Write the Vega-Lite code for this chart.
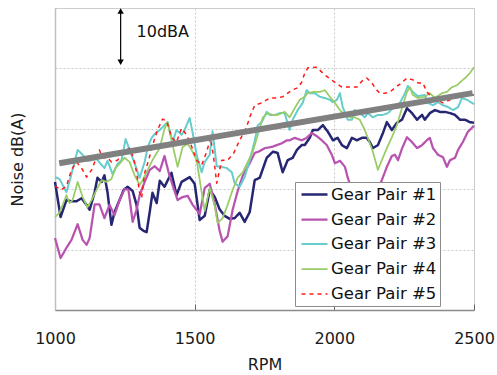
{
"$schema":"https://vega.github.io/schema/vega-lite/v6.json",
"width":419,"height":302,
"autosize":{"type":"none"},
"padding":{"left":55,"top":8,"right":23,"bottom":65},
"background":"white",
"config":{"font":"DejaVu Sans","view":{"stroke":"#cfcfcf","strokeWidth":1}},
"datasets":{
"gear":[
{"series":"Gear Pair #1","rpm":1000,"dB":61.2},{"series":"Gear Pair #1","rpm":1020,"dB":55.4},{"series":"Gear Pair #1","rpm":1041,"dB":58.2},{"series":"Gear Pair #1","rpm":1059,"dB":58.0},{"series":"Gear Pair #1","rpm":1077,"dB":58.0},{"series":"Gear Pair #1","rpm":1095,"dB":58.5},{"series":"Gear Pair #1","rpm":1113,"dB":57.4},{"series":"Gear Pair #1","rpm":1124,"dB":56.6},{"series":"Gear Pair #1","rpm":1142,"dB":59.5},{"series":"Gear Pair #1","rpm":1152,"dB":61.9},{"series":"Gear Pair #1","rpm":1167,"dB":61.2},{"series":"Gear Pair #1","rpm":1177,"dB":62.3},{"series":"Gear Pair #1","rpm":1188,"dB":59.5},{"series":"Gear Pair #1","rpm":1202,"dB":54.1},{"series":"Gear Pair #1","rpm":1213,"dB":56.2},{"series":"Gear Pair #1","rpm":1231,"dB":58.2},{"series":"Gear Pair #1","rpm":1246,"dB":59.9},{"series":"Gear Pair #1","rpm":1260,"dB":60.4},{"series":"Gear Pair #1","rpm":1278,"dB":59.7},{"series":"Gear Pair #1","rpm":1292,"dB":57.4},{"series":"Gear Pair #1","rpm":1303,"dB":53.6},{"series":"Gear Pair #1","rpm":1317,"dB":53.1},{"series":"Gear Pair #1","rpm":1328,"dB":52.9},{"series":"Gear Pair #1","rpm":1339,"dB":56.2},{"series":"Gear Pair #1","rpm":1349,"dB":59.4},{"series":"Gear Pair #1","rpm":1364,"dB":57.7},{"series":"Gear Pair #1","rpm":1375,"dB":61.4},{"series":"Gear Pair #1","rpm":1392,"dB":60.4},{"series":"Gear Pair #1","rpm":1417,"dB":62.7},{"series":"Gear Pair #1","rpm":1435,"dB":59.0},{"series":"Gear Pair #1","rpm":1453,"dB":61.2},{"series":"Gear Pair #1","rpm":1471,"dB":61.7},{"series":"Gear Pair #1","rpm":1482,"dB":62.0},{"series":"Gear Pair #1","rpm":1500,"dB":60.9},{"series":"Gear Pair #1","rpm":1518,"dB":54.9},{"series":"Gear Pair #1","rpm":1536,"dB":55.6},{"series":"Gear Pair #1","rpm":1554,"dB":59.9},{"series":"Gear Pair #1","rpm":1572,"dB":58.7},{"series":"Gear Pair #1","rpm":1589,"dB":56.7},{"series":"Gear Pair #1","rpm":1607,"dB":55.6},{"series":"Gear Pair #1","rpm":1625,"dB":55.1},{"series":"Gear Pair #1","rpm":1643,"dB":55.2},{"series":"Gear Pair #1","rpm":1661,"dB":56.1},{"series":"Gear Pair #1","rpm":1679,"dB":54.6},{"series":"Gear Pair #1","rpm":1697,"dB":56.2},{"series":"Gear Pair #1","rpm":1715,"dB":61.5},{"series":"Gear Pair #1","rpm":1733,"dB":61.9},{"series":"Gear Pair #1","rpm":1758,"dB":65.2},{"series":"Gear Pair #1","rpm":1780,"dB":66.2},{"series":"Gear Pair #1","rpm":1797,"dB":66.0},{"series":"Gear Pair #1","rpm":1815,"dB":62.8},{"series":"Gear Pair #1","rpm":1833,"dB":64.8},{"series":"Gear Pair #1","rpm":1851,"dB":65.2},{"series":"Gear Pair #1","rpm":1866,"dB":66.5},{"series":"Gear Pair #1","rpm":1883,"dB":67.3},{"series":"Gear Pair #1","rpm":1894,"dB":67.3},{"series":"Gear Pair #1","rpm":1912,"dB":68.5},{"series":"Gear Pair #1","rpm":1923,"dB":69.8},{"series":"Gear Pair #1","rpm":1941,"dB":69.8},{"series":"Gear Pair #1","rpm":1959,"dB":70.6},{"series":"Gear Pair #1","rpm":1977,"dB":69.5},{"series":"Gear Pair #1","rpm":1995,"dB":68.1},{"series":"Gear Pair #1","rpm":2012,"dB":68.5},{"series":"Gear Pair #1","rpm":2027,"dB":67.3},{"series":"Gear Pair #1","rpm":2045,"dB":66.8},{"series":"Gear Pair #1","rpm":2063,"dB":68.5},{"series":"Gear Pair #1","rpm":2081,"dB":68.1},{"series":"Gear Pair #1","rpm":2099,"dB":68.5},{"series":"Gear Pair #1","rpm":2116,"dB":68.5},{"series":"Gear Pair #1","rpm":2127,"dB":67.8},{"series":"Gear Pair #1","rpm":2138,"dB":66.8},{"series":"Gear Pair #1","rpm":2156,"dB":67.3},{"series":"Gear Pair #1","rpm":2174,"dB":69.3},{"series":"Gear Pair #1","rpm":2188,"dB":71.1},{"series":"Gear Pair #1","rpm":2206,"dB":69.8},{"series":"Gear Pair #1","rpm":2224,"dB":71.0},{"series":"Gear Pair #1","rpm":2242,"dB":71.5},{"series":"Gear Pair #1","rpm":2260,"dB":73.4},{"series":"Gear Pair #1","rpm":2278,"dB":72.6},{"series":"Gear Pair #1","rpm":2296,"dB":71.5},{"series":"Gear Pair #1","rpm":2314,"dB":72.3},{"series":"Gear Pair #1","rpm":2324,"dB":71.5},{"series":"Gear Pair #1","rpm":2342,"dB":72.6},{"series":"Gear Pair #1","rpm":2360,"dB":73.1},{"series":"Gear Pair #1","rpm":2378,"dB":72.8},{"series":"Gear Pair #1","rpm":2396,"dB":72.8},{"series":"Gear Pair #1","rpm":2414,"dB":72.6},{"series":"Gear Pair #1","rpm":2432,"dB":72.3},{"series":"Gear Pair #1","rpm":2450,"dB":71.5},{"series":"Gear Pair #1","rpm":2468,"dB":71.5},{"series":"Gear Pair #1","rpm":2485,"dB":71.1},{"series":"Gear Pair #1","rpm":2500,"dB":71.0},
{"series":"Gear Pair #2","rpm":1000,"dB":51.9},{"series":"Gear Pair #2","rpm":1020,"dB":48.6},{"series":"Gear Pair #2","rpm":1041,"dB":50.3},{"series":"Gear Pair #2","rpm":1059,"dB":51.6},{"series":"Gear Pair #2","rpm":1081,"dB":54.2},{"series":"Gear Pair #2","rpm":1099,"dB":51.6},{"series":"Gear Pair #2","rpm":1113,"dB":50.8},{"series":"Gear Pair #2","rpm":1124,"dB":51.9},{"series":"Gear Pair #2","rpm":1142,"dB":57.5},{"series":"Gear Pair #2","rpm":1159,"dB":57.5},{"series":"Gear Pair #2","rpm":1177,"dB":55.2},{"series":"Gear Pair #2","rpm":1195,"dB":57.4},{"series":"Gear Pair #2","rpm":1213,"dB":55.7},{"series":"Gear Pair #2","rpm":1231,"dB":58.2},{"series":"Gear Pair #2","rpm":1249,"dB":60.0},{"series":"Gear Pair #2","rpm":1263,"dB":59.9},{"series":"Gear Pair #2","rpm":1278,"dB":54.6},{"series":"Gear Pair #2","rpm":1292,"dB":56.6},{"series":"Gear Pair #2","rpm":1303,"dB":59.0},{"series":"Gear Pair #2","rpm":1321,"dB":61.2},{"series":"Gear Pair #2","rpm":1339,"dB":63.2},{"series":"Gear Pair #2","rpm":1357,"dB":63.8},{"series":"Gear Pair #2","rpm":1375,"dB":63.0},{"series":"Gear Pair #2","rpm":1392,"dB":65.5},{"series":"Gear Pair #2","rpm":1410,"dB":62.2},{"series":"Gear Pair #2","rpm":1439,"dB":58.2},{"series":"Gear Pair #2","rpm":1457,"dB":58.7},{"series":"Gear Pair #2","rpm":1475,"dB":58.9},{"series":"Gear Pair #2","rpm":1493,"dB":57.4},{"series":"Gear Pair #2","rpm":1518,"dB":55.9},{"series":"Gear Pair #2","rpm":1536,"dB":60.2},{"series":"Gear Pair #2","rpm":1554,"dB":60.9},{"series":"Gear Pair #2","rpm":1572,"dB":57.5},{"series":"Gear Pair #2","rpm":1589,"dB":53.2},{"series":"Gear Pair #2","rpm":1600,"dB":51.3},{"series":"Gear Pair #2","rpm":1618,"dB":52.2},{"series":"Gear Pair #2","rpm":1636,"dB":56.6},{"series":"Gear Pair #2","rpm":1654,"dB":59.7},{"series":"Gear Pair #2","rpm":1672,"dB":62.2},{"series":"Gear Pair #2","rpm":1697,"dB":64.3},{"series":"Gear Pair #2","rpm":1715,"dB":66.0},{"series":"Gear Pair #2","rpm":1733,"dB":66.3},{"series":"Gear Pair #2","rpm":1751,"dB":66.8},{"series":"Gear Pair #2","rpm":1776,"dB":67.0},{"series":"Gear Pair #2","rpm":1794,"dB":67.3},{"series":"Gear Pair #2","rpm":1812,"dB":67.6},{"series":"Gear Pair #2","rpm":1830,"dB":68.1},{"series":"Gear Pair #2","rpm":1840,"dB":68.1},{"series":"Gear Pair #2","rpm":1858,"dB":68.5},{"series":"Gear Pair #2","rpm":1883,"dB":68.1},{"series":"Gear Pair #2","rpm":1901,"dB":68.5},{"series":"Gear Pair #2","rpm":1919,"dB":69.3},{"series":"Gear Pair #2","rpm":1937,"dB":68.8},{"series":"Gear Pair #2","rpm":1955,"dB":68.1},{"series":"Gear Pair #2","rpm":1973,"dB":67.3},{"series":"Gear Pair #2","rpm":1991,"dB":65.7},{"series":"Gear Pair #2","rpm":2002,"dB":64.3},{"series":"Gear Pair #2","rpm":2020,"dB":64.7},{"series":"Gear Pair #2","rpm":2038,"dB":63.7},{"series":"Gear Pair #2","rpm":2048,"dB":61.9},{"series":"Gear Pair #2","rpm":2063,"dB":59.9},{"series":"Gear Pair #2","rpm":2081,"dB":57.4},{"series":"Gear Pair #2","rpm":2102,"dB":55.7},{"series":"Gear Pair #2","rpm":2127,"dB":56.2},{"series":"Gear Pair #2","rpm":2149,"dB":59.0},{"series":"Gear Pair #2","rpm":2170,"dB":61.5},{"series":"Gear Pair #2","rpm":2188,"dB":63.7},{"series":"Gear Pair #2","rpm":2206,"dB":65.5},{"series":"Gear Pair #2","rpm":2217,"dB":65.7},{"series":"Gear Pair #2","rpm":2228,"dB":64.8},{"series":"Gear Pair #2","rpm":2242,"dB":66.7},{"series":"Gear Pair #2","rpm":2260,"dB":68.6},{"series":"Gear Pair #2","rpm":2278,"dB":67.8},{"series":"Gear Pair #2","rpm":2296,"dB":66.8},{"series":"Gear Pair #2","rpm":2314,"dB":67.3},{"series":"Gear Pair #2","rpm":2331,"dB":68.1},{"series":"Gear Pair #2","rpm":2342,"dB":68.5},{"series":"Gear Pair #2","rpm":2353,"dB":66.8},{"series":"Gear Pair #2","rpm":2371,"dB":65.7},{"series":"Gear Pair #2","rpm":2389,"dB":65.3},{"series":"Gear Pair #2","rpm":2403,"dB":63.7},{"series":"Gear Pair #2","rpm":2414,"dB":64.8},{"series":"Gear Pair #2","rpm":2432,"dB":65.2},{"series":"Gear Pair #2","rpm":2443,"dB":66.5},{"series":"Gear Pair #2","rpm":2460,"dB":67.8},{"series":"Gear Pair #2","rpm":2478,"dB":69.5},{"series":"Gear Pair #2","rpm":2500,"dB":70.5},
{"series":"Gear Pair #3","rpm":1000,"dB":62.0},{"series":"Gear Pair #3","rpm":1016,"dB":61.7},{"series":"Gear Pair #3","rpm":1041,"dB":59.5},{"series":"Gear Pair #3","rpm":1059,"dB":62.5},{"series":"Gear Pair #3","rpm":1081,"dB":66.5},{"series":"Gear Pair #3","rpm":1099,"dB":65.7},{"series":"Gear Pair #3","rpm":1116,"dB":64.7},{"series":"Gear Pair #3","rpm":1131,"dB":64.8},{"series":"Gear Pair #3","rpm":1149,"dB":65.0},{"series":"Gear Pair #3","rpm":1167,"dB":64.0},{"series":"Gear Pair #3","rpm":1177,"dB":63.5},{"series":"Gear Pair #3","rpm":1188,"dB":64.7},{"series":"Gear Pair #3","rpm":1206,"dB":62.5},{"series":"Gear Pair #3","rpm":1224,"dB":64.2},{"series":"Gear Pair #3","rpm":1238,"dB":64.8},{"series":"Gear Pair #3","rpm":1253,"dB":68.3},{"series":"Gear Pair #3","rpm":1267,"dB":66.5},{"series":"Gear Pair #3","rpm":1285,"dB":64.3},{"series":"Gear Pair #3","rpm":1303,"dB":61.9},{"series":"Gear Pair #3","rpm":1321,"dB":64.5},{"series":"Gear Pair #3","rpm":1332,"dB":67.0},{"series":"Gear Pair #3","rpm":1346,"dB":68.5},{"series":"Gear Pair #3","rpm":1360,"dB":69.3},{"series":"Gear Pair #3","rpm":1375,"dB":69.8},{"series":"Gear Pair #3","rpm":1392,"dB":70.6},{"series":"Gear Pair #3","rpm":1403,"dB":71.1},{"series":"Gear Pair #3","rpm":1421,"dB":67.8},{"series":"Gear Pair #3","rpm":1435,"dB":69.8},{"series":"Gear Pair #3","rpm":1453,"dB":69.0},{"series":"Gear Pair #3","rpm":1464,"dB":69.8},{"series":"Gear Pair #3","rpm":1482,"dB":71.8},{"series":"Gear Pair #3","rpm":1493,"dB":69.3},{"series":"Gear Pair #3","rpm":1507,"dB":65.7},{"series":"Gear Pair #3","rpm":1525,"dB":62.8},{"series":"Gear Pair #3","rpm":1536,"dB":64.5},{"series":"Gear Pair #3","rpm":1554,"dB":65.7},{"series":"Gear Pair #3","rpm":1564,"dB":69.6},{"series":"Gear Pair #3","rpm":1579,"dB":63.8},{"series":"Gear Pair #3","rpm":1597,"dB":63.7},{"series":"Gear Pair #3","rpm":1615,"dB":63.5},{"series":"Gear Pair #3","rpm":1633,"dB":62.8},{"series":"Gear Pair #3","rpm":1643,"dB":61.0},{"series":"Gear Pair #3","rpm":1661,"dB":60.4},{"series":"Gear Pair #3","rpm":1679,"dB":62.0},{"series":"Gear Pair #3","rpm":1697,"dB":64.8},{"series":"Gear Pair #3","rpm":1715,"dB":68.0},{"series":"Gear Pair #3","rpm":1726,"dB":70.6},{"series":"Gear Pair #3","rpm":1740,"dB":71.1},{"series":"Gear Pair #3","rpm":1758,"dB":72.8},{"series":"Gear Pair #3","rpm":1769,"dB":72.3},{"series":"Gear Pair #3","rpm":1787,"dB":72.3},{"series":"Gear Pair #3","rpm":1805,"dB":72.6},{"series":"Gear Pair #3","rpm":1822,"dB":72.6},{"series":"Gear Pair #3","rpm":1840,"dB":69.8},{"series":"Gear Pair #3","rpm":1851,"dB":71.5},{"series":"Gear Pair #3","rpm":1869,"dB":73.1},{"series":"Gear Pair #3","rpm":1887,"dB":74.3},{"series":"Gear Pair #3","rpm":1901,"dB":76.4},{"series":"Gear Pair #3","rpm":1912,"dB":75.9},{"series":"Gear Pair #3","rpm":1930,"dB":75.9},{"series":"Gear Pair #3","rpm":1948,"dB":75.3},{"series":"Gear Pair #3","rpm":1966,"dB":75.1},{"series":"Gear Pair #3","rpm":1984,"dB":74.8},{"series":"Gear Pair #3","rpm":1995,"dB":74.4},{"series":"Gear Pair #3","rpm":2009,"dB":74.8},{"series":"Gear Pair #3","rpm":2020,"dB":75.9},{"series":"Gear Pair #3","rpm":2030,"dB":73.6},{"series":"Gear Pair #3","rpm":2048,"dB":71.5},{"series":"Gear Pair #3","rpm":2063,"dB":71.5},{"series":"Gear Pair #3","rpm":2073,"dB":73.1},{"series":"Gear Pair #3","rpm":2091,"dB":72.6},{"series":"Gear Pair #3","rpm":2109,"dB":71.9},{"series":"Gear Pair #3","rpm":2120,"dB":72.6},{"series":"Gear Pair #3","rpm":2138,"dB":71.9},{"series":"Gear Pair #3","rpm":2156,"dB":72.3},{"series":"Gear Pair #3","rpm":2174,"dB":72.3},{"series":"Gear Pair #3","rpm":2192,"dB":72.6},{"series":"Gear Pair #3","rpm":2210,"dB":73.4},{"series":"Gear Pair #3","rpm":2235,"dB":74.3},{"series":"Gear Pair #3","rpm":2253,"dB":75.9},{"series":"Gear Pair #3","rpm":2263,"dB":77.1},{"series":"Gear Pair #3","rpm":2281,"dB":76.1},{"series":"Gear Pair #3","rpm":2299,"dB":75.4},{"series":"Gear Pair #3","rpm":2324,"dB":75.6},{"series":"Gear Pair #3","rpm":2335,"dB":74.3},{"series":"Gear Pair #3","rpm":2353,"dB":73.9},{"series":"Gear Pair #3","rpm":2371,"dB":74.4},{"series":"Gear Pair #3","rpm":2389,"dB":73.9},{"series":"Gear Pair #3","rpm":2407,"dB":73.6},{"series":"Gear Pair #3","rpm":2425,"dB":73.1},{"series":"Gear Pair #3","rpm":2443,"dB":73.6},{"series":"Gear Pair #3","rpm":2457,"dB":75.1},{"series":"Gear Pair #3","rpm":2475,"dB":74.8},{"series":"Gear Pair #3","rpm":2500,"dB":74.1},
{"series":"Gear Pair #4","rpm":1000,"dB":55.4},{"series":"Gear Pair #4","rpm":1016,"dB":56.1},{"series":"Gear Pair #4","rpm":1041,"dB":59.0},{"series":"Gear Pair #4","rpm":1052,"dB":57.7},{"series":"Gear Pair #4","rpm":1063,"dB":58.2},{"series":"Gear Pair #4","rpm":1081,"dB":61.2},{"series":"Gear Pair #4","rpm":1099,"dB":58.7},{"series":"Gear Pair #4","rpm":1116,"dB":57.0},{"series":"Gear Pair #4","rpm":1131,"dB":58.2},{"series":"Gear Pair #4","rpm":1149,"dB":59.9},{"series":"Gear Pair #4","rpm":1167,"dB":61.5},{"series":"Gear Pair #4","rpm":1185,"dB":61.2},{"series":"Gear Pair #4","rpm":1202,"dB":61.7},{"series":"Gear Pair #4","rpm":1217,"dB":63.5},{"series":"Gear Pair #4","rpm":1231,"dB":64.2},{"series":"Gear Pair #4","rpm":1249,"dB":65.2},{"series":"Gear Pair #4","rpm":1267,"dB":64.5},{"series":"Gear Pair #4","rpm":1285,"dB":62.3},{"series":"Gear Pair #4","rpm":1303,"dB":60.7},{"series":"Gear Pair #4","rpm":1314,"dB":61.5},{"series":"Gear Pair #4","rpm":1332,"dB":63.2},{"series":"Gear Pair #4","rpm":1349,"dB":64.8},{"series":"Gear Pair #4","rpm":1364,"dB":66.0},{"series":"Gear Pair #4","rpm":1375,"dB":66.8},{"series":"Gear Pair #4","rpm":1392,"dB":70.0},{"series":"Gear Pair #4","rpm":1403,"dB":71.1},{"series":"Gear Pair #4","rpm":1421,"dB":67.3},{"series":"Gear Pair #4","rpm":1439,"dB":63.7},{"series":"Gear Pair #4","rpm":1457,"dB":67.0},{"series":"Gear Pair #4","rpm":1475,"dB":67.5},{"series":"Gear Pair #4","rpm":1489,"dB":66.5},{"series":"Gear Pair #4","rpm":1507,"dB":64.8},{"series":"Gear Pair #4","rpm":1525,"dB":59.5},{"series":"Gear Pair #4","rpm":1536,"dB":56.4},{"series":"Gear Pair #4","rpm":1554,"dB":60.2},{"series":"Gear Pair #4","rpm":1572,"dB":57.2},{"series":"Gear Pair #4","rpm":1582,"dB":54.4},{"series":"Gear Pair #4","rpm":1600,"dB":55.2},{"series":"Gear Pair #4","rpm":1618,"dB":57.4},{"series":"Gear Pair #4","rpm":1636,"dB":59.9},{"series":"Gear Pair #4","rpm":1654,"dB":61.9},{"series":"Gear Pair #4","rpm":1672,"dB":62.8},{"series":"Gear Pair #4","rpm":1690,"dB":64.5},{"series":"Gear Pair #4","rpm":1708,"dB":66.2},{"series":"Gear Pair #4","rpm":1726,"dB":69.0},{"series":"Gear Pair #4","rpm":1744,"dB":71.9},{"series":"Gear Pair #4","rpm":1762,"dB":72.6},{"series":"Gear Pair #4","rpm":1780,"dB":72.3},{"series":"Gear Pair #4","rpm":1797,"dB":72.3},{"series":"Gear Pair #4","rpm":1822,"dB":72.8},{"series":"Gear Pair #4","rpm":1840,"dB":71.9},{"series":"Gear Pair #4","rpm":1858,"dB":73.4},{"series":"Gear Pair #4","rpm":1876,"dB":74.8},{"series":"Gear Pair #4","rpm":1894,"dB":75.3},{"series":"Gear Pair #4","rpm":1905,"dB":75.9},{"series":"Gear Pair #4","rpm":1923,"dB":76.1},{"series":"Gear Pair #4","rpm":1948,"dB":76.1},{"series":"Gear Pair #4","rpm":1966,"dB":76.4},{"series":"Gear Pair #4","rpm":1984,"dB":75.3},{"series":"Gear Pair #4","rpm":2002,"dB":74.3},{"series":"Gear Pair #4","rpm":2020,"dB":73.1},{"series":"Gear Pair #4","rpm":2038,"dB":72.3},{"series":"Gear Pair #4","rpm":2056,"dB":71.9},{"series":"Gear Pair #4","rpm":2073,"dB":71.9},{"series":"Gear Pair #4","rpm":2091,"dB":71.5},{"series":"Gear Pair #4","rpm":2109,"dB":69.8},{"series":"Gear Pair #4","rpm":2120,"dB":68.5},{"series":"Gear Pair #4","rpm":2138,"dB":66.2},{"series":"Gear Pair #4","rpm":2156,"dB":63.2},{"series":"Gear Pair #4","rpm":2170,"dB":64.8},{"series":"Gear Pair #4","rpm":2188,"dB":66.8},{"series":"Gear Pair #4","rpm":2206,"dB":68.6},{"series":"Gear Pair #4","rpm":2224,"dB":70.6},{"series":"Gear Pair #4","rpm":2242,"dB":73.4},{"series":"Gear Pair #4","rpm":2260,"dB":76.1},{"series":"Gear Pair #4","rpm":2271,"dB":76.9},{"series":"Gear Pair #4","rpm":2281,"dB":75.6},{"series":"Gear Pair #4","rpm":2299,"dB":75.1},{"series":"Gear Pair #4","rpm":2324,"dB":75.3},{"series":"Gear Pair #4","rpm":2342,"dB":75.9},{"series":"Gear Pair #4","rpm":2360,"dB":75.1},{"series":"Gear Pair #4","rpm":2385,"dB":75.9},{"series":"Gear Pair #4","rpm":2403,"dB":76.1},{"series":"Gear Pair #4","rpm":2421,"dB":76.9},{"series":"Gear Pair #4","rpm":2439,"dB":77.2},{"series":"Gear Pair #4","rpm":2450,"dB":77.7},{"series":"Gear Pair #4","rpm":2468,"dB":78.4},{"series":"Gear Pair #4","rpm":2485,"dB":79.2},{"series":"Gear Pair #4","rpm":2500,"dB":80.2},
{"series":"Gear Pair #5","rpm":1000,"dB":60.5},{"series":"Gear Pair #5","rpm":1023,"dB":59.9},{"series":"Gear Pair #5","rpm":1041,"dB":60.5},{"series":"Gear Pair #5","rpm":1059,"dB":63.2},{"series":"Gear Pair #5","rpm":1077,"dB":64.5},{"series":"Gear Pair #5","rpm":1095,"dB":63.5},{"series":"Gear Pair #5","rpm":1113,"dB":62.0},{"series":"Gear Pair #5","rpm":1131,"dB":63.2},{"series":"Gear Pair #5","rpm":1149,"dB":65.3},{"series":"Gear Pair #5","rpm":1159,"dB":66.5},{"series":"Gear Pair #5","rpm":1170,"dB":65.2},{"series":"Gear Pair #5","rpm":1188,"dB":65.2},{"series":"Gear Pair #5","rpm":1202,"dB":64.5},{"series":"Gear Pair #5","rpm":1224,"dB":64.8},{"series":"Gear Pair #5","rpm":1246,"dB":66.2},{"series":"Gear Pair #5","rpm":1267,"dB":66.8},{"series":"Gear Pair #5","rpm":1281,"dB":65.2},{"series":"Gear Pair #5","rpm":1292,"dB":62.8},{"series":"Gear Pair #5","rpm":1303,"dB":59.4},{"series":"Gear Pair #5","rpm":1310,"dB":58.5},{"series":"Gear Pair #5","rpm":1321,"dB":62.7},{"series":"Gear Pair #5","rpm":1335,"dB":64.8},{"series":"Gear Pair #5","rpm":1353,"dB":67.8},{"series":"Gear Pair #5","rpm":1367,"dB":69.8},{"series":"Gear Pair #5","rpm":1385,"dB":71.6},{"series":"Gear Pair #5","rpm":1400,"dB":71.3},{"series":"Gear Pair #5","rpm":1417,"dB":68.6},{"series":"Gear Pair #5","rpm":1435,"dB":67.8},{"series":"Gear Pair #5","rpm":1453,"dB":70.1},{"series":"Gear Pair #5","rpm":1471,"dB":69.0},{"series":"Gear Pair #5","rpm":1489,"dB":67.1},{"series":"Gear Pair #5","rpm":1507,"dB":64.8},{"series":"Gear Pair #5","rpm":1525,"dB":64.0},{"series":"Gear Pair #5","rpm":1543,"dB":66.2},{"series":"Gear Pair #5","rpm":1557,"dB":68.5},{"series":"Gear Pair #5","rpm":1568,"dB":65.2},{"series":"Gear Pair #5","rpm":1579,"dB":61.0},{"series":"Gear Pair #5","rpm":1597,"dB":64.8},{"series":"Gear Pair #5","rpm":1618,"dB":64.8},{"series":"Gear Pair #5","rpm":1640,"dB":66.0},{"series":"Gear Pair #5","rpm":1661,"dB":68.1},{"series":"Gear Pair #5","rpm":1686,"dB":70.3},{"series":"Gear Pair #5","rpm":1697,"dB":71.9},{"series":"Gear Pair #5","rpm":1715,"dB":73.9},{"series":"Gear Pair #5","rpm":1740,"dB":74.3},{"series":"Gear Pair #5","rpm":1769,"dB":75.1},{"series":"Gear Pair #5","rpm":1794,"dB":75.1},{"series":"Gear Pair #5","rpm":1815,"dB":75.3},{"series":"Gear Pair #5","rpm":1848,"dB":76.4},{"series":"Gear Pair #5","rpm":1869,"dB":76.8},{"series":"Gear Pair #5","rpm":1883,"dB":77.7},{"series":"Gear Pair #5","rpm":1894,"dB":79.2},{"series":"Gear Pair #5","rpm":1905,"dB":80.1},{"series":"Gear Pair #5","rpm":1937,"dB":80.2},{"series":"Gear Pair #5","rpm":1966,"dB":78.9},{"series":"Gear Pair #5","rpm":2002,"dB":77.7},{"series":"Gear Pair #5","rpm":2027,"dB":76.9},{"series":"Gear Pair #5","rpm":2056,"dB":76.9},{"series":"Gear Pair #5","rpm":2081,"dB":76.9},{"series":"Gear Pair #5","rpm":2099,"dB":77.9},{"series":"Gear Pair #5","rpm":2116,"dB":78.4},{"series":"Gear Pair #5","rpm":2134,"dB":77.6},{"series":"Gear Pair #5","rpm":2152,"dB":76.4},{"series":"Gear Pair #5","rpm":2163,"dB":75.9},{"series":"Gear Pair #5","rpm":2181,"dB":75.9},{"series":"Gear Pair #5","rpm":2199,"dB":76.1},{"series":"Gear Pair #5","rpm":2217,"dB":76.8},{"series":"Gear Pair #5","rpm":2235,"dB":77.4},{"series":"Gear Pair #5","rpm":2260,"dB":78.4},{"series":"Gear Pair #5","rpm":2281,"dB":78.1},{"series":"Gear Pair #5","rpm":2299,"dB":77.6},{"series":"Gear Pair #5","rpm":2317,"dB":77.6},{"series":"Gear Pair #5","rpm":2331,"dB":76.1},{"series":"Gear Pair #5","rpm":2349,"dB":75.3},{"series":"Gear Pair #5","rpm":2367,"dB":74.8},{"series":"Gear Pair #5","rpm":2389,"dB":74.3},{"series":"Gear Pair #5","rpm":2414,"dB":74.8},{"series":"Gear Pair #5","rpm":2432,"dB":75.1},{"series":"Gear Pair #5","rpm":2450,"dB":75.4},{"series":"Gear Pair #5","rpm":2468,"dB":75.4},{"series":"Gear Pair #5","rpm":2485,"dB":75.6},{"series":"Gear Pair #5","rpm":2500,"dB":75.6}
],
"trend":[{"rpm":1015,"dB":64.3},{"rpm":2495,"dB":75.9}],
"arrow":[{"rpm":1235,"dB":89.5,"dB2":81.0}],
"heads":[{"rpm":1235,"dB":89.5,"head":"up"},{"rpm":1235,"dB":81.0,"head":"down"}],
"note":[{"rpm":1292,"dB":86.0,"label":"10dBA"}]
},
"encoding":{
"x":{"field":"rpm","type":"quantitative","scale":{"domain":[1000,2500],"nice":false,"zero":false},
 "axis":{"title":"RPM","values":[1000,1500,2000,2500],"format":"d","labelFlush":false,"labelFont":"DejaVu Sans","labelFontSize":16,"labelColor":"#1a1a1a","tickSize":-6,"tickColor":"#666666","labelPadding":26,"domainColor":"#8c8c8c","domainWidth":1.5,"grid":true,"gridColor":"#c8c8c8","gridDash":[2,2],"titleFont":"DejaVu Sans","titleFontSize":16,"titleFontWeight":"normal","titleColor":"#1a1a1a","titlePadding":10}},
"y":{"field":"dB","type":"quantitative","scale":{"domain":[40,90],"nice":false,"zero":false},
 "axis":{"title":"Noise dB(A)","values":[40,50,60,70,80,90],"labels":false,"ticks":false,"domainColor":"#c0c0c0","domainWidth":1.5,"grid":true,"gridColor":"#c8c8c8","gridDash":[2,2],"titleFont":"DejaVu Sans","titleFontSize":16,"titleFontWeight":"normal","titleColor":"#1a1a1a","titlePadding":30}}
},
"layer":[
{"data":{"name":"gear"},"mark":{"type":"line","strokeJoin":"round"},
 "encoding":{
 "color":{"field":"series","type":"nominal","scale":{"domain":["Gear Pair #1","Gear Pair #2","Gear Pair #3","Gear Pair #4","Gear Pair #5"],"range":["#262673","#b854b0","#66cccc","#99cc66","#ff1a1a"]},
  "legend":{"title":null,"orient":"none","legendX":240,"legendY":174,"fillColor":"white","strokeColor":"#8c8c8c","padding":3,"symbolType":"M-1.625,0L1.625,0","symbolSize":256,"symbolStrokeWidth":2,"symbolOffset":7,"labelFont":"DejaVu Sans","labelFontSize":16.5,"labelColor":"#111111","labelOffset":7,"rowPadding":7,"labelLimit":200}},
 "strokeDash":{"field":"series","type":"nominal","scale":{"domain":["Gear Pair #1","Gear Pair #2","Gear Pair #3","Gear Pair #4","Gear Pair #5"],"range":[[1,0],[1,0],[1,0],[1,0],[4,4]]},
  "legend":{"title":null,"orient":"none","legendX":240,"legendY":174,"fillColor":"white","strokeColor":"#8c8c8c","padding":3,"symbolType":"M-1.625,0L1.625,0","symbolSize":256,"symbolStrokeWidth":2,"symbolOffset":7,"labelFont":"DejaVu Sans","labelFontSize":16.5,"labelColor":"#111111","labelOffset":7,"rowPadding":7,"labelLimit":200}},
 "strokeWidth":{"field":"series","type":"nominal","scale":{"domain":["Gear Pair #1","Gear Pair #2","Gear Pair #3","Gear Pair #4","Gear Pair #5"],"range":[2.5,1.5,2,2.5,2.5]},"legend":null}
 }},
{"data":{"name":"trend"},"mark":{"type":"line","color":"#808080","strokeWidth":6},"encoding":{}},
{"data":{"name":"arrow"},"mark":{"type":"rule","color":"#000000","strokeWidth":1.2},"encoding":{"y2":{"field":"dB2"}}},
{"data":{"name":"heads"},"mark":{"type":"point","filled":true,"color":"#000000","opacity":1,"size":40},
 "encoding":{"shape":{"field":"head","type":"nominal","scale":{"domain":["up","down"],"range":["triangle-up","triangle-down"]},"legend":null}}},
{"data":{"name":"note"},"mark":{"type":"text","align":"left","baseline":"middle","font":"DejaVu Sans","fontSize":16,"color":"#111111"},"encoding":{"text":{"field":"label"}}}
]
}
